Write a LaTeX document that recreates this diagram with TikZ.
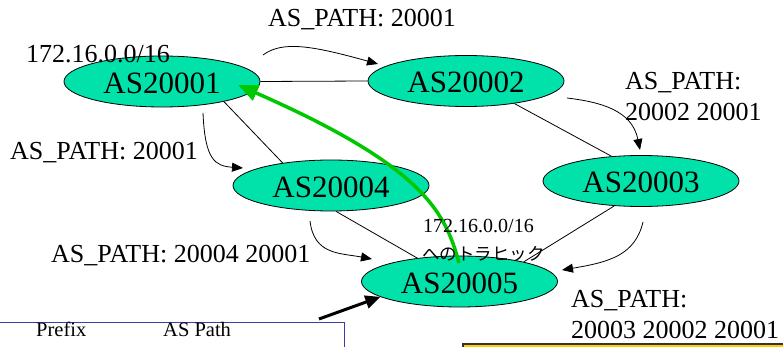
\documentclass[tikz,border=0pt]{standalone}
\usepackage{fontspec}
\setmainfont{Liberation Serif}
\newfontfamily\jpfont{Noto Sans CJK JP}
\usetikzlibrary{arrows.meta,shapes.geometric}
\definecolor{asfill}{RGB}{0,226,170}
\definecolor{trafficgreen}{RGB}{0,200,0}
\definecolor{tableblue}{RGB}{60,60,170}
\definecolor{tablegold}{RGB}{255,204,0}

\begin{document}
\begin{tikzpicture}[x=1pt,y=-1pt,
  asnode/.style={ellipse, draw=black, line width=0.8pt, fill=asfill,
    minimum width=196pt, minimum height=51pt, inner sep=0pt,
    text height=24pt, text depth=0pt, font=\fontsize{31}{31}\selectfont},
  link/.style={draw=black, line width=0.8pt},
  adv/.style={draw=black, line width=0.8pt, -{Triangle[length=11pt,width=9pt]}},
  lbl/.style={anchor=base west, inner sep=0pt, font=\fontsize{26}{26}\selectfont},
  small/.style={anchor=base west, inner sep=0pt, font=\fontsize{20}{20}\selectfont},
]
\useasboundingbox (0,0) rectangle (783,347);
\clip (0,0) rectangle (783,347);

% routing table panels at the bottom
\draw[tableblue, line width=1pt] (-10,322) rectangle (344,380);
\node[small, font=\fontsize{20.5}{20.5}\selectfont] (tprefix) at (36,336) {Prefix};
\node[small, font=\fontsize{20.5}{20.5}\selectfont] (tpath) at (163,336) {AS Path};
\draw[draw=black!80, line width=1.5pt, fill=tablegold] (463,344) rectangle (800,380);

% autonomous systems
\node[asnode] (a1) at (162,81.5) {AS20001};
\node[asnode] (a2) at (466,81) {AS20002};
\node[asnode] (a3) at (641,181) {AS20003};
\node[asnode] (a4) at (331,185.5) {AS20004};
\node[asnode] (a5) at (459.5,281.5) {AS20005};

% peering links
\draw[link] (a1.0) -- (a2.180);
\draw[link] (a1.-18) -- (a4.155);
\draw[link] (a2.-25) -- (a3.140);
\draw[link] (a4.-79) -- (a5.151);
\draw[link] (a3.223) -- (a5.17);

% route advertisements
\coordinate (r1s) at (263,55);  \coordinate (r1e) at (378,64);
\coordinate (r2s) at (203,113); \coordinate (r2e) at (243,168);
\coordinate (r3s) at (567,98);  \coordinate (r3e) at (640,150);
\coordinate (r4s) at (310,221); \coordinate (r4e) at (372,259);
\coordinate (r5s) at (643,222); \coordinate (r5e) at (562,270);
\draw[adv] (r1s) .. controls (282,41) and (310,45) .. (r1e);
\draw[adv] (r2s) .. controls (205,160) and (215,166) .. (r2e);
\draw[adv] (r3s) .. controls (600,102) and (632,110) .. (r3e);
\draw[adv] (r4s) .. controls (314,255) and (340,253) .. (r4e);
\draw[adv] (r5s) .. controls (635,255) and (610,262) .. (r5e);

\node[lbl] (l1) at (268,27) {AS\_PATH: 20001};
\node[lbl] (l2) at (10,160) {AS\_PATH: 20001};
\node[lbl] (l3a) at (625,90) {AS\_PATH:};
\node[lbl] (l3b) at (625,121) {20002 20001};
\node[lbl] (l4) at (51,262) {AS\_PATH: 20004 20001};
\node[lbl] (l5a) at (571,307) {AS\_PATH:};
\node[lbl] (l5b) at (571,338) {20003 20002 20001};
\node[lbl] (pfx) at (26,63) {172.16.0.0/16};

% traffic toward the prefix
\coordinate (gs) at (459,263);
\coordinate (gt) at (238,85);
\draw[trafficgreen, line width=3.5pt, -{Triangle[length=20pt,width=16pt]}]
  (gs) .. controls (445,210) and (420,165) .. (gt);
\node[small] (t1) at (423,233) {172.16.0.0/16};
\node[small, font=\jpfont\fontsize{17.5}{17.5}\selectfont] (t2) at (422,260) {へのトラヒック};

% pointer to AS20005
\coordinate (ps) at (319,319);
\draw[black, line width=3pt, -{Triangle[length=15pt,width=13pt]}] (ps) -- (a5.191);
\end{tikzpicture}
\end{document}
